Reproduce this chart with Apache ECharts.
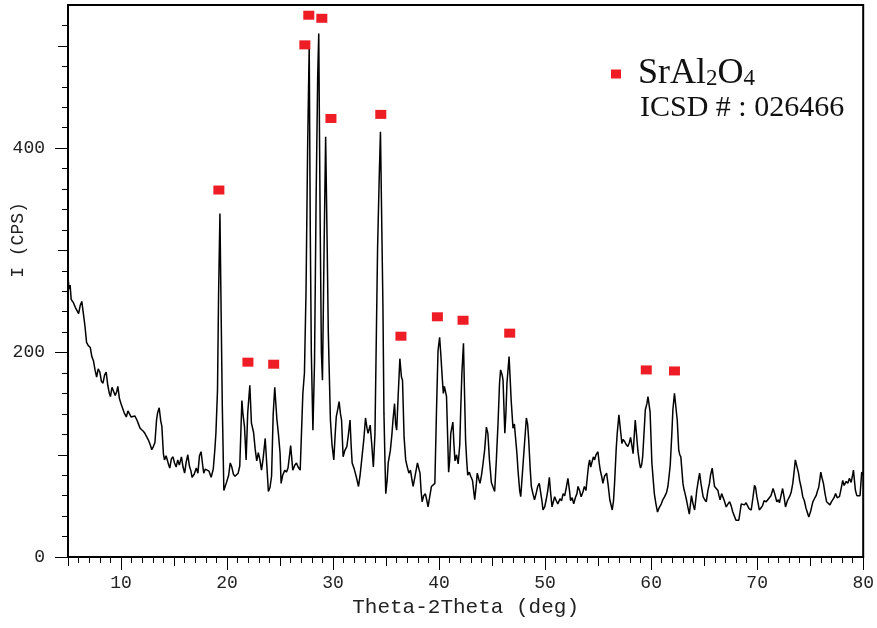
<!DOCTYPE html>
<html>
<head>
<meta charset="utf-8">
<script src="https://cdn.jsdelivr.net/npm/echarts@6/dist/echarts.min.js"></script>
<style>
  html, body { margin: 0; padding: 0; background: #fff; }
  #xrd { width: 877px; height: 628px; }
</style>
</head>
<body>
<div id="xrd"></div>
<script>
// XRD scan, [2theta, counts]
const scan5to20 = [
  [5.0,274],[5.1,262],[5.2,266],[5.3,252],[5.5,249],[5.7,244],[5.9,240],[6.0,238],[6.15,246],[6.3,250],
  [6.45,238],[6.6,226],[6.75,210],[6.9,207],[7.1,205],[7.25,196],[7.4,192],[7.55,183],[7.7,176],[7.85,184],
  [8.0,181],[8.15,172],[8.3,170],[8.45,178],[8.6,181],[8.75,168],[8.9,160],[9.0,157],[9.15,166],[9.3,165],
  [9.45,158],[9.6,162],[9.7,167],[9.85,155],[10.0,150],[10.1,147],[10.3,141],[10.5,137],[10.65,143],[10.8,142],
  [10.95,137],[11.1,136],[11.3,138],[11.5,134],[11.65,130],[11.8,126],[11.95,127],[12.1,123],[12.25,121],[12.4,118],
  [12.6,114],[12.75,110],[12.9,105],[13.05,108],[13.2,112],[13.35,134],[13.45,141],[13.6,146],[13.75,133],[13.85,128],
  [14.0,101],[14.1,95],[14.25,99],[14.4,98],[14.5,90],[14.6,87],[14.75,96],[14.9,98],[15.05,92],[15.2,88],
  [15.35,95],[15.5,90],[15.7,98],[15.85,88],[16.0,82],[16.15,93],[16.3,100],[16.45,89],[16.6,84],[16.7,78],
  [16.9,81],[17.1,87],[17.25,82],[17.4,99],[17.55,103],[17.7,90],[17.8,82],[17.95,86],[18.1,86],[18.3,84],
  [18.5,78],[18.7,86],[18.85,105],[18.95,121],[19.1,163],[19.2,255],[19.33,336],[19.42,258],[19.55,150],[19.7,65],
  [19.85,70],[19.95,73]
];
const scan20to35 = [
  [20.15,80],[20.3,92],[20.45,88],[20.6,81],[20.75,79],[20.9,78],[21.05,82],[21.2,89],[21.4,153],[21.5,140],
  [21.65,127],[21.8,95],[21.95,141],[22.15,168],[22.3,131],[22.5,122],[22.65,106],[22.8,94],[22.95,102],[23.1,95],
  [23.25,85],[23.4,96],[23.6,116],[23.75,90],[23.9,64],[24.05,68],[24.2,79],[24.35,139],[24.5,166],[24.7,135],
  [24.85,120],[25.0,102],[25.1,72],[25.25,80],[25.45,85],[25.6,83],[25.75,87],[25.9,100],[26.0,109],[26.2,85],
  [26.4,90],[26.55,92],[26.7,88],[26.9,85],[27.05,130],[27.15,160],[27.3,180],[27.45,260],[27.6,400],[27.75,500],
  [27.85,320],[27.95,200],[28.1,124],[28.25,190],[28.4,350],[28.55,470],[28.65,512],[28.78,330],[28.9,200],[29.0,173],
  [29.15,300],[29.3,411],[29.45,300],[29.55,220],[29.75,134],[29.9,110],[30.07,95],[30.2,120],[30.3,137],[30.45,145],
  [30.57,152],[30.7,140],[30.8,134],[30.95,98],[31.1,104],[31.3,108],[31.45,120],[31.6,134],[31.7,110],[31.8,92],
  [32.0,86],[32.2,78],[32.4,69],[32.55,80],[32.7,95],[32.9,115],[33.06,136],[33.2,126],[33.3,121],[33.5,129],
  [33.65,110],[33.8,88],[33.95,120],[34.05,193],[34.2,303],[34.35,370],[34.47,416],[34.6,320],[34.7,248],[34.8,140],
  [34.9,92],[34.97,62]
];
const scan35to50 = [
  [35.1,75],[35.2,92],[35.4,104],[35.55,120],[35.65,134],[35.8,150],[35.9,130],[36.0,124],[36.15,160],[36.3,194],
  [36.45,176],[36.55,173],[36.7,117],[36.85,95],[37.0,88],[37.15,82],[37.3,85],[37.45,75],[37.55,69],[37.75,80],
  [37.96,92],[38.1,86],[38.2,82],[38.3,65],[38.4,54],[38.55,60],[38.7,62],[38.85,55],[38.96,49],[39.1,58],
  [39.28,69],[39.45,70],[39.6,72],[39.75,141],[39.9,202],[40.05,215],[40.15,200],[40.3,175],[40.4,160],[40.5,167],
  [40.7,157],[40.8,120],[40.9,83],[41.0,95],[41.1,121],[41.3,132],[41.4,110],[41.5,94],[41.65,100],[41.8,91],
  [41.95,110],[42.04,144],[42.15,180],[42.3,209],[42.4,160],[42.5,114],[42.6,95],[42.7,80],[42.85,83],[42.98,79],
  [43.15,75],[43.36,56],[43.5,70],[43.6,82],[43.75,76],[43.86,72],[44.0,80],[44.14,91],[44.3,105],[44.46,127],
  [44.6,121],[44.75,95],[44.93,73],[45.1,68],[45.24,64],[45.4,95],[45.56,131],[45.7,170],[45.8,183],[45.95,178],
  [46.03,173],[46.2,121],[46.3,140],[46.4,170],[46.6,196],[46.7,175],[46.8,153],[46.97,126],[47.1,130],[47.2,129],
  [47.35,100],[47.44,85],[47.6,65],[47.7,59],[47.9,88],[48.05,110],[48.23,136],[48.35,130],[48.45,115],[48.6,85],
  [48.7,69],[48.85,62],[49.0,56],[49.15,62],[49.3,69],[49.45,72],[49.55,73],[49.7,55],[49.8,46],[49.96,49]
];
const scan50to65 = [
  [50.1,56],[50.25,65],[50.4,78],[50.5,65],[50.65,49],[50.8,55],[50.9,59],[51.05,55],[51.2,52],[51.4,57],
  [51.55,55],[51.7,62],[51.85,60],[52.0,68],[52.15,77],[52.3,65],[52.4,55],[52.55,58],[52.7,52],[52.85,58],
  [53.0,62],[53.1,69],[53.25,65],[53.4,59],[53.55,63],[53.7,69],[53.85,65],[53.98,78],[54.1,90],[54.2,95],
  [54.3,88],[54.4,87],[54.55,98],[54.67,95],[54.8,100],[54.98,103],[55.1,92],[55.2,85],[55.35,78],[55.45,72],
  [55.6,79],[55.8,82],[55.95,70],[56.1,56],[56.33,46],[56.45,55],[56.55,72],[56.7,105],[56.8,121],[56.96,139],
  [57.1,125],[57.24,111],[57.35,115],[57.5,113],[57.65,110],[57.8,108],[57.95,112],[58.06,117],[58.2,108],[58.3,101],
  [58.4,118],[58.5,134],[58.62,120],[58.75,104],[58.9,92],[59.0,87],[59.1,90],[59.2,98],[59.35,125],[59.45,144],
  [59.6,150],[59.7,157],[59.9,142],[60.07,92],[60.2,75],[60.3,62],[60.45,52],[60.6,44],[60.75,48],[60.96,52],
  [61.1,56],[61.27,59],[61.45,63],[61.58,69],[61.7,80],[61.8,90],[61.95,120],[62.05,144],[62.2,160],[62.35,145],
  [62.46,134],[62.6,105],[62.7,100],[62.8,98],[62.9,85],[63.0,72],[63.1,66],[63.2,62],[63.35,55],[63.46,49],
  [63.6,42],[63.8,60],[63.95,52],[64.1,46],[64.2,55],[64.3,65],[64.45,75],[64.57,82],[64.7,72],[64.9,59]
];
const scan65to80 = [
  [65.05,56],[65.2,54],[65.35,65],[65.5,72],[65.6,80],[65.76,87],[65.9,75],[65.98,69],[66.15,68],[66.3,65],
  [66.4,60],[66.5,56],[66.65,62],[66.76,63],[66.9,55],[67.08,49],[67.25,52],[67.4,54],[67.55,50],[67.7,44],
  [67.85,40],[68.0,36],[68.15,35],[68.27,36],[68.4,45],[68.5,52],[68.65,52],[68.8,51],[68.95,53],[69.1,50],
  [69.25,47],[69.44,46],[69.6,58],[69.75,70],[69.85,68],[69.97,59],[70.1,52],[70.2,46],[70.35,48],[70.5,50],
  [70.65,55],[70.85,54],[71.0,56],[71.16,55],[71.3,60],[71.5,67],[71.65,62],[71.85,54],[72.0,56],[72.1,53],
  [72.25,60],[72.4,67],[72.55,58],[72.67,49],[72.85,55],[73.05,59],[73.2,63],[73.36,72],[73.5,85],[73.6,95],
  [73.77,96],[73.9,82],[74.0,75],[74.15,68],[74.3,59],[74.45,55],[74.6,48],[74.75,43],[74.87,39],[75.05,45],
  [75.25,54],[75.4,57],[75.56,60],[75.7,65],[75.8,68],[75.9,75],[76.0,83],[76.1,78],[76.25,72],[76.4,62],
  [76.55,54],[76.7,55],[76.86,51],[77.0,54],[77.1,55],[77.25,58],[77.4,62],[77.55,58],[77.76,59],[77.9,66],
  [78.07,75],[78.2,70],[78.4,74],[78.55,72],[78.7,77],[78.86,73],[79.0,80],[79.08,85],[79.2,72],[79.27,65],
  [79.4,60],[79.5,59],[79.7,60],[79.86,83],[80.0,80]
];

// SrAl2O4 reference peaks (red squares)
const peakAngles  = [19.23, 21.97, 24.4, 27.34, 27.71, 28.94, 29.8, 34.5, 36.4, 39.84, 42.26, 46.66, 59.54, 62.2];
const peakMarkers = [359, 190.6, 188.6, 501, 530, 527, 429, 433, 216, 235, 231.6, 219, 183, 182];

// axis ticks
const xLabelTicks = [10, 20, 30, 40, 50, 60, 70, 80];
const xMidTicks   = [5, 15, 25, 35, 45, 55, 65, 75];
const xMinorTicks = [];
for (let t = 5; t <= 80; t++) xMinorTicks.push(t);
const yLabelTicks = [0, 200, 400];
const yMidTicks   = [100, 300, 500];
const yMinorTicks = [];
for (let t = 0; t <= 520; t += 20) yMinorTicks.push(t);

const scan = [].concat(scan5to20, scan20to35, scan35to50, scan50to65, scan65to80);
const peaks = peakAngles.map((a, i) => [a, peakMarkers[i]]);

const MONO = '"Liberation Mono", "DejaVu Sans Mono", monospace';
const SERIF = '"Liberation Serif", "DejaVu Serif", serif';

function xAxisLayer(ticks, len, extra) {
    return Object.assign({
        type: 'value', min: 5, max: 80, position: 'bottom', offset: 0,
        axisLine: { show: false },
        axisTick: { show: true, length: len, customValues: ticks, lineStyle: { color: '#000', width: 1 } },
        axisLabel: { show: false },
        splitLine: { show: false }
    }, extra || {});
}
function yAxisLayer(ticks, len, extra) {
    return Object.assign({
        type: 'value', min: 0, max: 540, position: 'left', offset: 0,
        axisLine: { show: false },
        axisTick: { show: true, length: len, customValues: ticks, lineStyle: { color: '#000', width: 1 } },
        axisLabel: { show: false },
        splitLine: { show: false }
    }, extra || {});
}

const chart = echarts.init(document.getElementById('xrd'), null, { renderer: 'canvas' });
chart.setOption({
    animation: false,
    backgroundColor: '#fff',
    grid: { left: 68, right: 13, top: 5, bottom: 71, show: true, borderColor: '#000', borderWidth: 2, backgroundColor: 'transparent' },
    xAxis: [
        xAxisLayer(xMinorTicks, 6, {
            axisLine: { show: true, lineStyle: { color: '#000', width: 2 } },
            axisLabel: { show: true, customValues: xLabelTicks, margin: 17, color: '#222', fontFamily: MONO, fontSize: 18 },
            name: 'Theta-2Theta (deg)', nameLocation: 'middle', nameGap: 40,
            nameTextStyle: { color: '#222', fontFamily: MONO, fontSize: 21 }
        }),
        xAxisLayer(xMidTicks, 9),
        xAxisLayer(xLabelTicks, 13)
    ],
    yAxis: [
        yAxisLayer(yMinorTicks, 6, {
            axisLine: { show: true, lineStyle: { color: '#000', width: 2 } },
            axisLabel: { show: true, customValues: yLabelTicks, margin: 23, color: '#222', fontFamily: MONO, fontSize: 18 }
        }),
        yAxisLayer(yMidTicks, 10),
        yAxisLayer(yLabelTicks, 13)
    ],
    legend: {
        data: [{ name: 'SrAl2O4', icon: 'rect', itemStyle: { color: '#ee1c25', opacity: 1 } }],
        left: 606, top: 51,
        itemWidth: 10, itemHeight: 9,
        selectedMode: false,
        formatter: () => '{m|SrAl}{s|2}{m|O}{s|4}',
        textStyle: {
            padding: [0, 0, 0, 12],
            rich: {
                m: { fontFamily: SERIF, fontSize: 36, color: '#111', verticalAlign: 'bottom' },
                s: { fontFamily: SERIF, fontSize: 23, color: '#111', verticalAlign: 'bottom', padding: [0, 0, 2, 0] }
            }
        }
    },
    graphic: [
        {
            type: 'text', left: 640, top: 93,
            style: { text: 'ICSD # : 026466', font: '30px ' + SERIF, fill: '#111' }
        },
        {
            type: 'text', x: 18, y: 240, rotation: Math.PI / 2,
            style: { text: 'I (CPS)', font: '18px ' + MONO, fill: '#222', align: 'center', verticalAlign: 'middle' }
        }
    ],
    series: [
        {
            name: 'scan', type: 'line', data: scan,
            showSymbol: false, symbol: 'none',
            lineStyle: { color: '#000', width: 1.5 },
            z: 2, silent: true
        },
        {
            name: 'SrAl2O4', type: 'scatter', data: peaks,
            symbol: 'rect', symbolSize: [11, 9],
            itemStyle: { color: '#ee1c25', opacity: 1 },
            z: 3, silent: true
        }
    ]
});
</script>
</body>
</html>
